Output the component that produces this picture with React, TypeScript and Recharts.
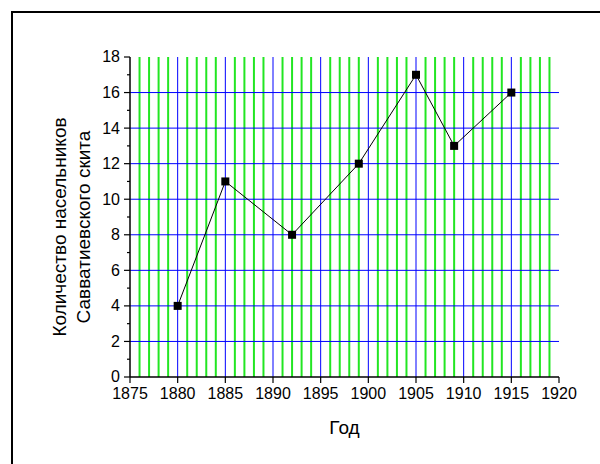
import { LineChart, Line, XAxis, YAxis, CartesianGrid } from 'recharts';

const YEARS = [1880, 1885, 1892, 1899, 1905, 1909, 1915];
const MONKS = [4, 11, 8, 12, 17, 13, 16];

const X_TICKS = [1875, 1880, 1885, 1890, 1895, 1900, 1905, 1910, 1915, 1920];
const Y_TICKS = [0, 1, 2, 3, 4, 5, 6, 7, 8, 9, 10, 11, 12, 13, 14, 15, 16, 17, 18];

// grid lines (no lines on the axes ends)
const MAJOR_YEARS = [1880, 1885, 1890, 1895, 1900, 1905, 1910, 1915];
const MINOR_YEARS = [
  1876, 1877, 1878, 1879, 1881, 1882, 1883, 1884, 1886, 1887, 1888, 1889,
  1891, 1892, 1893, 1894, 1896, 1897, 1898, 1899, 1901, 1902, 1903, 1904,
  1906, 1907, 1908, 1909, 1911, 1912, 1913, 1914, 1916, 1917, 1918, 1919,
];
const H_LINES = [2, 4, 6, 8, 10, 12, 14, 16];

const data = YEARS.map((year, i) => ({ year, value: MONKS[i] }));

const FONT = '"Liberation Sans", Arial, sans-serif';

const YTick = (props: any) => {
  const { x, y, payload } = props;
  const major = payload.value % 2 === 0;
  return (
    <g>
      <line x1={x - (major ? 6 : 3)} x2={x} y1={y} y2={y} stroke="#000" strokeWidth={1.2} />
      {major && (
        <text x={x - 10} y={y} dy="0.34em" textAnchor="end" fontSize={16} fill="#000" fontFamily={FONT}>
          {payload.value}
        </text>
      )}
    </g>
  );
};

const YLabel = (props: any) => {
  const { viewBox } = props;
  const cy = viewBox.y + viewBox.height / 2 + 10;
  return (
    <g fontFamily={FONT} fontSize={19} fill="#000">
      <text x={66} y={cy} textAnchor="middle" transform={`rotate(-90 66 ${cy})`}>Количество насельников</text>
      <text x={90} y={cy} textAnchor="middle" transform={`rotate(-90 90 ${cy})`}>Савватиевского скита</text>
    </g>
  );
};

const XLabel = (props: any) => {
  const { viewBox } = props;
  const cx = viewBox.x + viewBox.width / 2;
  return (
    <text x={cx} y={434} textAnchor="middle" fontFamily={FONT} fontSize={19} fill="#000">Год</text>
  );
};

const SquareDot = (props: any) => {
  const { cx, cy, index } = props;
  return <rect key={`dot-${index}`} x={cx - 4} y={cy - 4} width={8} height={8} fill="#000" />;
};

export default function App() {
  return (
    <div style={{ position: 'absolute', left: 0, top: 0, width: 600, height: 464, background: '#fff', overflow: 'hidden' }}>
      <div style={{ position: 'absolute', left: 11, top: 11, width: 620, height: 480, borderTop: '2px solid #000', borderLeft: '2px solid #000' }} />
      <div style={{ position: 'absolute', left: 0, top: 0 }}>
        <LineChart width={600} height={464} data={data} margin={{ top: 57, right: 41, bottom: 57, left: 0 }}>
          <CartesianGrid horizontal={false} verticalValues={MINOR_YEARS} stroke="#22e622" strokeWidth={2} />
          <CartesianGrid horizontalValues={H_LINES} verticalValues={MAJOR_YEARS} stroke="#0000ff" strokeWidth={1} />
          <XAxis
            dataKey="year"
            type="number"
            domain={[1875, 1920]}
            ticks={X_TICKS}
            interval={0}
            tickSize={6}
            tickMargin={5}
            axisLine={{ stroke: '#000', strokeWidth: 1.5 }}
            tickLine={{ stroke: '#000', strokeWidth: 1.2 }}
            tick={{ fill: '#000', fontSize: 16, fontFamily: FONT }}
            label={<XLabel />}
          />
          <YAxis
            type="number"
            domain={[0, 18]}
            ticks={Y_TICKS}
            interval={0}
            width={130}
            tickSize={0}
            tickMargin={0}
            tickLine={false}
            axisLine={{ stroke: '#000', strokeWidth: 1.5 }}
            tick={<YTick />}
            label={<YLabel />}
          />
          <Line
            dataKey="value"
            stroke="#000"
            strokeWidth={1}
            dot={<SquareDot />}
            activeDot={false}
            isAnimationActive={false}
          />
        </LineChart>
      </div>
    </div>
  );
}
